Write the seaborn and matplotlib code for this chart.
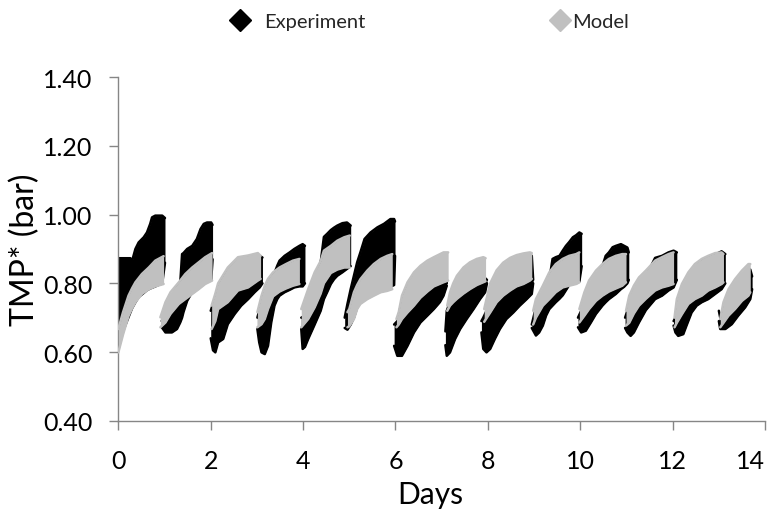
import numpy as np
import pandas as pd
import matplotlib
matplotlib.use("Agg")
import matplotlib.pyplot as plt
from matplotlib.lines import Line2D
from matplotlib.ticker import FormatStrFormatter
import seaborn as sns

# ---------------- data ----------------
series_names = ["Experiment", "Model"]
series_colors = ["#000000", "#C0C0C0"]

x_ticks = [0, 2, 4, 6, 8, 10, 12, 14]
y_ticks = [0.40, 0.60, 0.80, 1.00, 1.20, 1.40]
x_label = "Days"
y_label = "TMP* (bar)"

# Experiment band: per filtration cycle, day / lower envelope / upper envelope
exp_day = [
    [0.00, 0.10, 0.26, 0.30, 0.37, 0.44, 0.55, 0.62, 0.69, 0.73, 0.80, 0.95, 1.01],
    [0.94, 1.02, 1.16, 1.27, 1.34, 1.38, 1.41, 1.49, 1.60, 1.70, 1.78, 1.85, 1.92, 2.01, 2.04],
    [2.00, 2.05, 2.10, 2.16, 2.27, 2.37, 2.52, 2.66, 2.81, 2.95, 3.06, 3.12],
    [3.01, 3.05, 3.10, 3.17, 3.24, 3.31, 3.38, 3.44, 3.49, 3.60, 3.71, 3.81, 3.92, 3.99, 4.04],
    [3.96, 3.99, 4.04, 4.11, 4.25, 4.38, 4.45, 4.52, 4.60, 4.67, 4.74, 4.85, 4.95, 5.03],
    [4.90, 4.96, 5.03, 5.10, 5.17, 5.24, 5.33, 5.46, 5.61, 5.75, 5.89, 5.97, 5.99],
    [5.97, 6.04, 6.14, 6.26, 6.40, 6.54, 6.69, 6.83, 6.96, 7.04, 7.11],
    [7.08, 7.11, 7.18, 7.29, 7.40, 7.54, 7.69, 7.83, 7.94, 7.98],
    [7.86, 7.90, 7.97, 8.05, 8.15, 8.26, 8.40, 8.55, 8.69, 8.84, 8.95, 8.98],
    [8.95, 9.04, 9.11, 9.19, 9.26, 9.33, 9.40, 9.47, 9.55, 9.62, 9.69, 9.76, 9.84, 9.91, 9.98, 10.03],
    [9.95, 10.02, 10.12, 10.23, 10.34, 10.48, 10.55, 10.62, 10.70, 10.77, 10.88, 10.95, 11.02, 11.05],
    [10.97, 11.02, 11.09, 11.16, 11.27, 11.42, 11.62, 11.77, 11.91, 12.02, 12.09],
    [12.02, 12.06, 12.12, 12.23, 12.30, 12.41, 12.52, 12.63, 12.77, 12.92, 13.06, 13.14],
    [13.00, 13.03, 13.14, 13.28, 13.42, 13.57, 13.68, 13.72],
]
exp_low = [
    [0.62, 0.66, 0.715, 0.728, 0.745, 0.76, 0.772, 0.78, 0.785, 0.787, 0.791, 0.80, 0.86],
    [0.672, 0.657, 0.657, 0.667, 0.686, 0.70, 0.716, 0.749, 0.775, 0.785, 0.79, 0.80, 0.805, 0.81, 0.87],
    [0.64, 0.605, 0.599, 0.628, 0.638, 0.681, 0.711, 0.735, 0.754, 0.774, 0.788, 0.80],
    [0.667, 0.628, 0.599, 0.594, 0.618, 0.686, 0.735, 0.754, 0.764, 0.774, 0.781, 0.788, 0.791, 0.791, 0.80],
    [0.667, 0.609, 0.615, 0.638, 0.68, 0.72, 0.754, 0.774, 0.798, 0.812, 0.822, 0.832, 0.842, 0.85],
    [0.67, 0.665, 0.68, 0.70, 0.73, 0.745, 0.76, 0.77, 0.78, 0.785, 0.79, 0.795, 0.88],
    [0.618, 0.589, 0.589, 0.618, 0.657, 0.686, 0.706, 0.725, 0.745, 0.764, 0.793],
    [0.62, 0.589, 0.599, 0.638, 0.667, 0.696, 0.725, 0.754, 0.774, 0.80],
    [0.657, 0.609, 0.599, 0.609, 0.638, 0.667, 0.696, 0.715, 0.735, 0.754, 0.769, 0.80],
    [0.67, 0.648, 0.657, 0.677, 0.706, 0.725, 0.735, 0.745, 0.755, 0.765, 0.78, 0.795, 0.80, 0.80, 0.805, 0.85],
    [0.672, 0.657, 0.662, 0.686, 0.711, 0.735, 0.745, 0.754, 0.762, 0.769, 0.783, 0.79, 0.80, 0.81],
    [0.67, 0.657, 0.647, 0.657, 0.686, 0.722, 0.754, 0.764, 0.779, 0.788, 0.81],
    [0.677, 0.657, 0.647, 0.652, 0.677, 0.715, 0.735, 0.745, 0.754, 0.769, 0.783, 0.80],
    [0.69, 0.667, 0.667, 0.681, 0.706, 0.730, 0.754, 0.783],
]
exp_high = [
    [0.873, 0.873, 0.873, 0.866, 0.900, 0.919, 0.934, 0.948, 0.973, 0.992, 0.997, 0.997, 0.99],
    [0.69, 0.72, 0.76, 0.79, 0.80, 0.885, 0.888, 0.900, 0.909, 0.929, 0.958, 0.973, 0.977, 0.977, 0.97],
    [0.72, 0.74, 0.76, 0.79, 0.82, 0.835, 0.86, 0.87, 0.875, 0.878, 0.88, 0.875],
    [0.70, 0.72, 0.75, 0.78, 0.80, 0.82, 0.83, 0.851, 0.866, 0.880, 0.890, 0.900, 0.909, 0.914, 0.909],
    [0.70, 0.70, 0.72, 0.76, 0.81, 0.86, 0.935, 0.944, 0.955, 0.962, 0.968, 0.975, 0.977, 0.968],
    [0.70, 0.74, 0.783, 0.822, 0.861, 0.890, 0.929, 0.948, 0.963, 0.973, 0.987, 0.987, 0.98],
    [0.68, 0.69, 0.75, 0.79, 0.82, 0.84, 0.855, 0.865, 0.875, 0.88, 0.80],
    [0.66, 0.72, 0.745, 0.76, 0.775, 0.79, 0.80, 0.81, 0.815, 0.81],
    [0.69, 0.70, 0.72, 0.76, 0.80, 0.82, 0.84, 0.86, 0.87, 0.875, 0.88, 0.81],
    [0.68, 0.73, 0.75, 0.77, 0.79, 0.81, 0.871, 0.876, 0.880, 0.895, 0.909, 0.92, 0.934, 0.94, 0.948, 0.944],
    [0.70, 0.72, 0.76, 0.80, 0.82, 0.85, 0.880, 0.890, 0.905, 0.909, 0.914, 0.909, 0.904, 0.89],
    [0.70, 0.72, 0.75, 0.78, 0.80, 0.82, 0.874, 0.880, 0.890, 0.895, 0.89],
    [0.69, 0.70, 0.75, 0.78, 0.80, 0.83, 0.85, 0.865, 0.876, 0.884, 0.893, 0.885],
    [0.72, 0.70, 0.74, 0.78, 0.80, 0.83, 0.84, 0.82],
]

# Model band: per filtration cycle, day / lower envelope / upper envelope
model_day = [
    [0.00, 0.10, 0.22, 0.30, 0.37, 0.51, 0.66, 0.80, 0.98],
    [0.91, 1.02, 1.13, 1.31, 1.45, 1.60, 1.74, 1.88, 2.03],
    [2.02, 2.10, 2.16, 2.37, 2.59, 2.81, 3.02, 3.08],
    [3.01, 3.10, 3.17, 3.24, 3.35, 3.49, 3.63, 3.78, 3.92],
    [3.96, 4.11, 4.25, 4.38, 4.45, 4.60, 4.74, 4.89, 5.01],
    [4.96, 5.00, 5.10, 5.17, 5.24, 5.39, 5.53, 5.68, 5.82, 5.93],
    [6.02, 6.07, 6.14, 6.26, 6.40, 6.54, 6.69, 6.83, 7.04, 7.14],
    [7.12, 7.18, 7.25, 7.33, 7.47, 7.61, 7.76, 7.90, 7.95],
    [7.92, 8.05, 8.19, 8.33, 8.48, 8.62, 8.77, 8.91, 8.95],
    [8.98, 9.04, 9.19, 9.33, 9.47, 9.62, 9.76, 9.91, 9.98],
    [9.98, 10.09, 10.19, 10.34, 10.48, 10.62, 10.77, 10.91, 10.99],
    [10.99, 11.06, 11.16, 11.27, 11.42, 11.62, 11.77, 11.91, 12.02],
    [12.04, 12.09, 12.20, 12.34, 12.48, 12.63, 12.77, 12.92, 13.06, 13.10],
    [13.03, 13.10, 13.21, 13.35, 13.50, 13.64, 13.68],
]
model_low = [
    [0.599, 0.650, 0.705, 0.728, 0.745, 0.769, 0.783, 0.791, 0.798],
    [0.672, 0.686, 0.711, 0.740, 0.754, 0.769, 0.783, 0.798, 0.808],
    [0.667, 0.69, 0.725, 0.745, 0.779, 0.788, 0.808, 0.813],
    [0.672, 0.681, 0.696, 0.725, 0.762, 0.776, 0.785, 0.793, 0.798],
    [0.672, 0.696, 0.730, 0.77, 0.80, 0.830, 0.840, 0.846, 0.846],
    [0.672, 0.675, 0.696, 0.725, 0.740, 0.754, 0.764, 0.774, 0.778, 0.783],
    [0.672, 0.68, 0.696, 0.715, 0.735, 0.758, 0.776, 0.791, 0.803, 0.808],
    [0.72, 0.735, 0.745, 0.755, 0.77, 0.783, 0.795, 0.803, 0.806],
    [0.688, 0.715, 0.745, 0.764, 0.779, 0.791, 0.798, 0.808, 0.813],
    [0.68, 0.70, 0.735, 0.754, 0.774, 0.788, 0.793, 0.798, 0.803],
    [0.686, 0.706, 0.725, 0.749, 0.764, 0.776, 0.785, 0.793, 0.803],
    [0.677, 0.685, 0.712, 0.735, 0.755, 0.779, 0.788, 0.793, 0.798],
    [0.672, 0.685, 0.710, 0.740, 0.754, 0.764, 0.779, 0.788, 0.798, 0.803],
    [0.672, 0.685, 0.706, 0.725, 0.749, 0.764, 0.774],
]
model_high = [
    [0.667, 0.715, 0.764, 0.786, 0.803, 0.827, 0.846, 0.866, 0.879],
    [0.701, 0.745, 0.774, 0.803, 0.827, 0.846, 0.861, 0.876, 0.888],
    [0.735, 0.77, 0.80, 0.846, 0.876, 0.881, 0.888, 0.88],
    [0.716, 0.764, 0.793, 0.813, 0.832, 0.846, 0.856, 0.866, 0.871],
    [0.725, 0.783, 0.832, 0.865, 0.895, 0.909, 0.924, 0.934, 0.939],
    [0.716, 0.725, 0.774, 0.795, 0.812, 0.837, 0.856, 0.871, 0.880, 0.885],
    [0.696, 0.716, 0.764, 0.803, 0.832, 0.851, 0.866, 0.876, 0.890, 0.890],
    [0.735, 0.774, 0.80, 0.822, 0.846, 0.861, 0.871, 0.876, 0.873],
    [0.725, 0.80, 0.838, 0.86, 0.874, 0.882, 0.887, 0.89, 0.888],
    [0.72, 0.754, 0.793, 0.832, 0.856, 0.871, 0.880, 0.885, 0.89],
    [0.725, 0.774, 0.808, 0.837, 0.856, 0.871, 0.880, 0.885, 0.885],
    [0.72, 0.764, 0.793, 0.817, 0.837, 0.866, 0.876, 0.885, 0.890],
    [0.70, 0.754, 0.798, 0.832, 0.856, 0.871, 0.880, 0.888, 0.890, 0.885],
    [0.696, 0.745, 0.783, 0.812, 0.837, 0.856, 0.856],
]


def to_frame(days, lows, highs, name):
    rows = []
    for c, (d, lo, hi) in enumerate(zip(days, lows, highs)):
        for x, a, b in zip(d, lo, hi):
            rows.append((name, c, x, a, b))
    return pd.DataFrame(rows, columns=["series", "cycle", "day", "low", "high"])


df = pd.concat([
    to_frame(exp_day, exp_low, exp_high, series_names[0]),
    to_frame(model_day, model_low, model_high, series_names[1]),
], ignore_index=True)

# ---------------- drawing ----------------
sns.set_theme(style="white")
plt.rcParams["font.family"] = ["Lato", "DejaVu Sans"]

fig = plt.figure(figsize=(7.79, 5.10), dpi=100)
ax = fig.add_axes([0.1519, 0.1731, 0.8302, 0.6736])

for k, (name, color) in enumerate(zip(series_names, series_colors)):
    sub = df[df["series"] == name]
    z = 2 + 2 * k
    for c, g in sub.groupby("cycle"):
        ax.fill_between(g["day"], g["low"], g["high"], color=color, lw=0, zorder=z)
    for col in ["low", "high"]:
        sns.lineplot(data=sub, x="day", y=col, units="cycle", estimator=None,
                     sort=False, color=color, lw=1.8, ax=ax, legend=False,
                     zorder=z + 0.5)

ax.set_xlim(x_ticks[0], x_ticks[-1])
ax.set_ylim(y_ticks[0], y_ticks[-1])
ax.set_xticks(x_ticks)
ax.set_yticks(y_ticks)
ax.yaxis.set_major_formatter(FormatStrFormatter("%.2f"))

axis_gray = "#868686"
for s in ["top", "right"]:
    ax.spines[s].set_visible(False)
for s in ["left", "bottom"]:
    ax.spines[s].set_color(axis_gray)
    ax.spines[s].set_linewidth(1.0)

ax.tick_params(axis="both", which="major", direction="out", length=6.5,
               width=1.0, color=axis_gray, labelsize=18, labelcolor="black",
               bottom=True, left=True)
ax.tick_params(axis="y", pad=12)
ax.tick_params(axis="x", pad=14)
# the last x label is kept inside the chart area, as in the original
ax.get_xticklabels()[-1].set_horizontalalignment("right")

ax.set_xlabel(x_label, fontsize=21.5, color="black")
ax.set_ylabel(y_label, fontsize=23, color="black")
ax.xaxis.set_label_coords(0.482, -0.172)
ax.yaxis.set_label_coords(-0.121, 0.5)

handles = [Line2D([0], [0], marker="D", linestyle="none", markersize=11.5,
                  markerfacecolor=c, markeredgecolor=c) for c in series_colors]
leg1 = fig.legend([handles[0]], [series_names[0]], loc="center left",
                  bbox_to_anchor=(228 / 779, 1 - 22 / 510), frameon=False,
                  fontsize=14.5, handlelength=1.2, handletextpad=0.6,
                  borderpad=0, borderaxespad=0)
leg2 = fig.legend([handles[1]], [series_names[1]], loc="center left",
                  bbox_to_anchor=(548 / 779, 1 - 22 / 510), frameon=False,
                  fontsize=14.5, handlelength=1.2, handletextpad=0.0,
                  borderpad=0, borderaxespad=0)

fig.savefig("out.png", dpi=100)
